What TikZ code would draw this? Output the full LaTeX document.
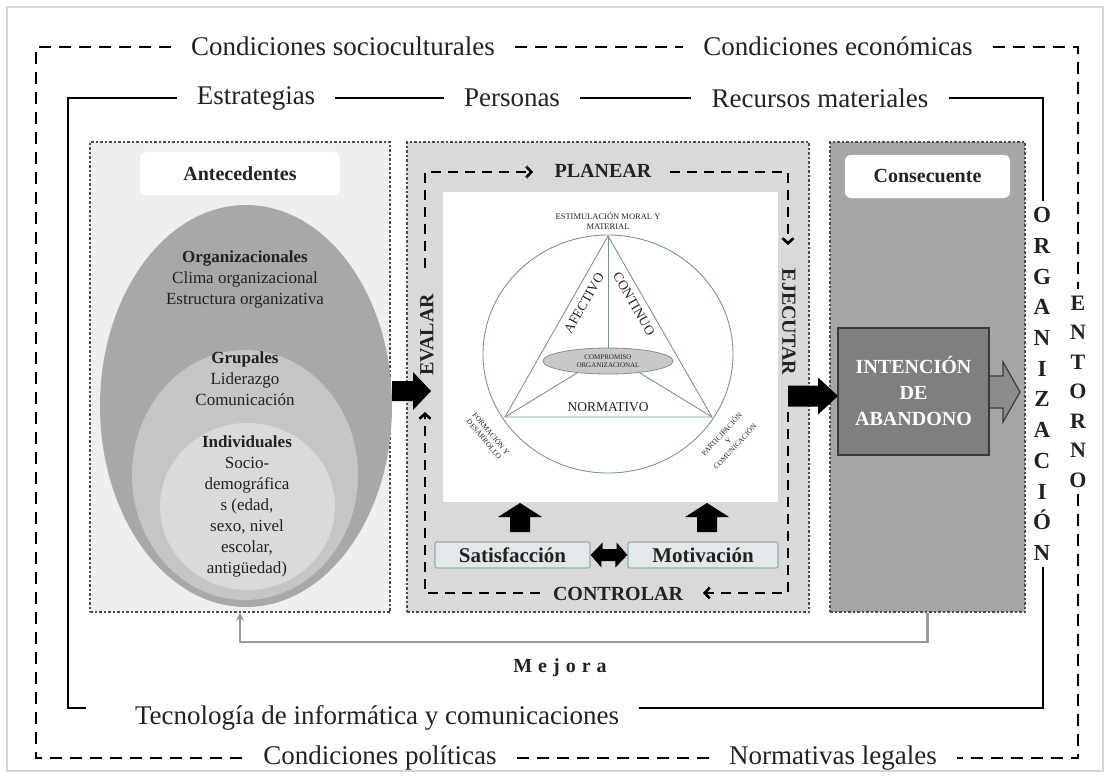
\documentclass[tikz,border=0pt]{standalone}
\usepackage{fontspec}
\setmainfont{Liberation Serif}
\usetikzlibrary{arrows.meta,shapes.geometric}
\definecolor{txt}{HTML}{222222}
\definecolor{dotc}{HTML}{4D4D4D}
\definecolor{paneA}{HTML}{EFEFEF}
\definecolor{paneB}{HTML}{D9D9D9}
\definecolor{paneC}{HTML}{A6A6A6}
\definecolor{ellA}{HTML}{A8A8A8}
\definecolor{ellB}{HTML}{C5C5C5}
\definecolor{ellC}{HTML}{DADADA}
\definecolor{tric}{HTML}{7F9294}
\definecolor{compf}{HTML}{C8C8C8}
\definecolor{boxf}{HTML}{E3E8EA}
\definecolor{boxd}{HTML}{8EB0B0}
\definecolor{intf}{HTML}{7F7F7F}
\definecolor{intd}{HTML}{3A3A3A}
\definecolor{arrg}{HTML}{8C8C8C}
\definecolor{mejc}{HTML}{9A9A9A}
\definecolor{framec}{HTML}{D6D6D6}
% #1 x, #2 y, #3 angle, #4 length, #5 body half, #6 head half, #7 head length, #8 style
\newcommand{\blockarr}[8]{%
  \begin{scope}[shift={(#1,#2)},rotate=#3]
    \path[#8] (0,-#5) -- (#4-#7,-#5) -- (#4-#7,-#6) -- (#4,0) -- (#4-#7,#6) -- (#4-#7,#5) -- (0,#5) -- cycle;
  \end{scope}}
\begin{document}
\begin{tikzpicture}[x=1pt,y=-1pt,
  outertext/.style={font=\fontsize{27}{32}\selectfont, text=txt, inner xsep=20pt, inner ysep=0pt},
  envline/.style={line width=2.6pt, dash pattern=on 12pt off 8pt},
  orgline/.style={line width=2.4pt},
  panel/.style={draw=dotc, line width=1.3pt, dash pattern=on 2.5pt off 2pt, inner sep=0pt},
  pdca/.style={line width=2.6pt, dash pattern=on 10pt off 7pt, -{Straight Barb[length=5pt,width=11pt]}},
  tri/.style={draw=tric, line width=0.9pt},
  lbox/.style={fill=white, rounded corners=6pt, inner sep=0pt, text=txt, font=\bfseries\fontsize{20}{24}\selectfont},
  etext/.style={font=\fontsize{17}{21}\selectfont, align=center, text=txt, inner sep=0pt},
  pdtext/.style={font=\bfseries\fontsize{20}{22}\selectfont, text=txt, inner sep=0pt},
  sbox/.style={fill=boxf, draw=boxd, line width=1.2pt, rounded corners=2pt, inner sep=0pt, text=txt, font=\bfseries\fontsize{21}{24}\selectfont},
  small/.style={text=txt, inner sep=0pt, align=center},
  vletters/.style={font=\bfseries\fontsize{23}{30.7}\selectfont, align=center, text=txt, inner sep=6pt},
  mejline/.style={draw=mejc, line width=2.2pt, -{Stealth[length=8pt,width=8pt]}}
]
\useasboundingbox (0,0) rectangle (1110,778);
\fill[white] (0,0) rectangle (1110,778);
\draw[framec, line width=1.5pt] (7,7) rectangle (1103,771);

% panels
\node[panel, fill=paneA, minimum width=300, minimum height=470] (ant) at (240,377) {};
\node[panel, fill=paneB, minimum width=402, minimum height=470] (pdc) at (608,377) {};
\node[panel, fill=paneC, minimum width=195, minimum height=470] (cons) at (927.5,377) {};

% antecedentes
\node[lbox, minimum width=200, minimum height=43] (antl) at (240,173.5) {Antecedentes};
\node[ellipse, fill=ellA, minimum width=292, minimum height=402, inner sep=0pt] (e1) at (246,406) {};
\node[ellipse, fill=ellB, minimum width=226, minimum height=250, inner sep=0pt] (e2) at (245,475) {};
\node[ellipse, fill=ellC, minimum width=175, minimum height=167, inner sep=0pt] (e3) at (247.5,506.5) {};
\node[etext] (torg) at (245,279) {\textbf{Organizacionales}\\Clima organizacional\\Estructura organizativa};
\node[etext] (tgru) at (245,379) {\textbf{Grupales}\\Liderazgo\\Comunicación};
\node[etext] (tind) at (247,506) {\textbf{Individuales}\\Socio-\\demográfica\\s (edad,\\sexo, nivel\\escolar,\\antigüedad)};

% middle: white square, circle, triangle
\node[fill=white, minimum width=335, minimum height=310, inner sep=0pt] (wsq) at (610.5,347) {};
\node[ellipse, draw=tric, line width=0.9pt, minimum width=250, minimum height=238, inner sep=0pt] (circ) at (608,354) {};
\coordinate (tA) at (608,236);
\coordinate (tB) at (505,417);
\coordinate (tC) at (712,417);
\node[ellipse, draw=tric, fill=compf, line width=0.8pt, minimum width=130, minimum height=26, inner sep=0pt,
      font=\fontsize{7}{8.5}\selectfont, align=center, text=txt] (comp) at (608,361) {COMPROMISO\\ORGANIZACIONAL};
\coordinate (cl) at (577,373);
\coordinate (cr) at (640,373);
\draw[tri] (tA) -- (tB) -- (tC) -- cycle;
\draw[tri] (tA) -- (comp.north);
\draw[tri] (tB) -- (cl);
\draw[tri] (tC) -- (cr);
\node[small, font=\fontsize{8.5}{10}\selectfont] (estim) at (608,221) {ESTIMULACIÓN MORAL Y\\MATERIAL};
\node[small, font=\fontsize{13.5}{16}\selectfont, rotate=60] (afec) at (584,303) {AFECTIVO};
\node[small, font=\fontsize{13.5}{16}\selectfont, rotate=-60] (cont) at (634,304) {CONTINUO};
\node[small, font=\fontsize{13.5}{16}\selectfont] (normv) at (608,407) {NORMATIVO};
\node[small, font=\fontsize{7.5}{9}\selectfont, rotate=-50] (form) at (488,436) {FORMACIÓN Y\\DESARROLLO};
\node[small, font=\fontsize{7.5}{9}\selectfont, rotate=47] (part) at (728,440) {PARTICIPACIÓN\\Y\\COMUNICACIÓN};

% satisfaccion / motivacion
\node[sbox, minimum width=155, minimum height=26] (sat) at (512.5,555) {Satisfacción};
\node[sbox, minimum width=150, minimum height=26] (mot) at (703,555) {Motivación};
\blockarr{520}{532}{90}{29}{10}{22}{14}{fill=black}
\blockarr{707}{532}{90}{29}{10}{22}{14}{fill=black}
\fill (sat.east) -- ++(12,-12.5) -- ++(0,6.5) -- ++(14,0) -- ++(0,-6.5) -- (mot.west) -- ++(-12,12.5) -- ++(0,-6.5) -- ++(-14,0) -- ++(0,6.5) -- cycle;

% PDCA loop
\node[pdtext] (plan) at (603,171) {PLANEAR};
\node[pdtext] (ctrl) at (618,594) {CONTROLAR};
\node[pdtext, rotate=90] (eval) at (427,335) {EVALAR};
\node[pdtext, rotate=-90] (ejec) at (789,322) {EJECUTAR};
\coordinate (ptl) at (425,172);
\coordinate (ptr) at (788,172);
\coordinate (pbr) at (788,593);
\coordinate (pbl) at (425,593);
\draw[pdca] (425,268) -- (ptl) -- (533,172);
\draw[pdca] (670,172) -- (ptr) -- (788,245);
\draw[pdca] (788,412) -- (pbr) -- (703,593);
\draw[pdca] (540,593) -- (pbl) -- (425,412);

% big black arrows
\blockarr{392}{391}{0}{39}{10}{19}{18}{fill=black}
\blockarr{788}{396}{0}{50}{10.5}{18.5}{20}{fill=black}

% consecuente
\node[lbox, minimum width=165, minimum height=43] (consl) at (927.5,176.5) {Consecuente};
\blockarr{984}{392}{0}{36}{16}{30}{17}{fill=arrg, draw=intd, line width=1.2pt}
\node[fill=intf, draw=intd, line width=1.3pt, minimum width=151, minimum height=127, inner sep=0pt,
      text=white, font=\bfseries\fontsize{20}{26}\selectfont, align=center] (int) at (913.5,391.5) {INTENCIÓN\\DE\\ABANDONO};

% mejora
\draw[mejline] (cons.south) -- ++(0,29) -| (ant.south);
\node[text=txt, inner sep=0pt, font=\bfseries\fontsize{20}{24}\selectfont] (mej) at (560,668) {M\hspace{6pt}e\hspace{6pt}j\hspace{6pt}o\hspace{6pt}r\hspace{6pt}a};

% organizacion frame
\node[outertext] (estr) at (256,98) {Estrategias};
\node[outertext] (pers) at (512,98) {Personas};
\node[outertext] (recu) at (820,98) {Recursos materiales};
\node[outertext] (tec) at (377,718) {Tecnología de informática y comunicaciones};
\node[vletters] (orgv) at (1042,384) {O\\R\\G\\A\\N\\I\\Z\\A\\C\\I\\Ó\\N};
\coordinate (otl) at (68,98);
\coordinate (otr) at (1043,98);
\coordinate (obr) at (1043,708);
\coordinate (obl) at (68,708);
\draw[orgline] (estr.west) -- (otl) -- (obl) -- ++(18,0);
\draw[orgline] (estr.east) -- (pers.west);
\draw[orgline] (pers.east) -- (recu.west);
\draw[orgline] (recu.east) -- (otr) -- (otr |- orgv.north);
\draw[orgline] (obr |- orgv.south) -- (obr) -- (tec.east |- obr);

% entorno frame
\node[outertext] (soc) at (343,46) {Condiciones socioculturales};
\node[outertext] (eco) at (838,46) {Condiciones económicas};
\node[outertext] (pol) at (380,758) {Condiciones políticas};
\node[outertext] (norm) at (833,758) {Normativas legales};
\node[vletters, font=\bfseries\fontsize{22}{29.5}\selectfont] (entv) at (1078,391.5) {E\\N\\T\\O\\R\\N\\O};
\coordinate (etl) at (36,47);
\coordinate (etr) at (1078,47);
\coordinate (ebr) at (1078,758);
\coordinate (ebl) at (36,758);
\draw[envline] (soc.west |- etl) -- (etl) -- (ebl) -- (pol.west);
\draw[envline] (soc.east |- etl) -- (eco.west |- etl);
\draw[envline] (eco.east |- etl) -- (etr) -- (entv.north);
\draw[envline] (entv.south) -- (ebr) -- (norm.east);
\draw[envline] (pol.east) -- (norm.west);
\end{tikzpicture}
\end{document}
